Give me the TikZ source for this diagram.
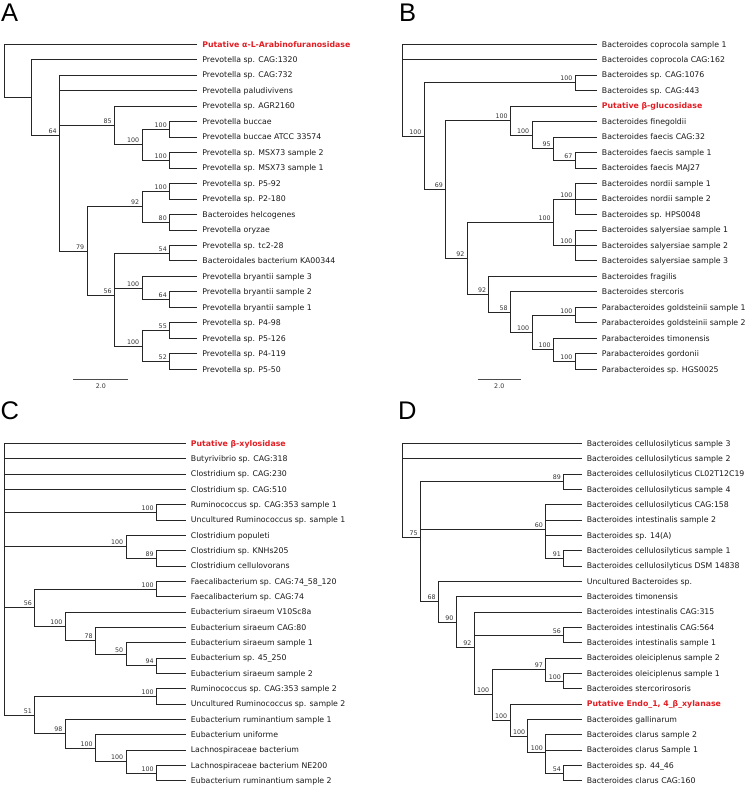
\documentclass[tikz,border=0pt]{standalone}
\usepackage{fontspec}
\setmainfont{DejaVu Sans}
\newfontfamily\panelfont{Liberation Sans}
\usetikzlibrary{calc}
\definecolor{putred}{RGB}{226,30,36}
\newcommand\putv[1]{\textcolor{putred}{\bfseries #1}}
\newcommand\inode[3]{\coordinate (tmpc) at ($#3$);\coordinate (#1) at (#2 |- tmpc);}
\newcommand\clade[3]{\draw[branch] (#2) -| (#1) |- (#3);}
\newcommand\midkid[2]{\draw[branch] (#1 |- #2) -- (#2);}
\newcommand\supp[2]{\node[supl] (#1s) at (#1) {#2};}
\newcommand\bin[5]{\inode{#1}{#2}{(#3)!.5!(#4)}\clade{#1}{#3}{#4}\supp{#1}{#5}}
\newcommand\tri[6]{\inode{#1}{#2}{0.33333*(#3)+0.33333*(#4)+0.33334*(#5)}\clade{#1}{#3}{#5}\midkid{#1}{#4}\supp{#1}{#6}}
\begin{document}
\begin{tikzpicture}[x=1pt,y=-1pt,
  branch/.style={draw=black!85, line width=0.9pt},
  leaf/.style={anchor=base west, inner sep=0pt, xshift=5pt, yshift=-2.8pt, font=\fontsize{7.8}{9}\selectfont, text=black!90},
  supl/.style={anchor=base east, inner sep=0pt, xshift=-2.7pt, yshift=2pt, font=\fontsize{6.3}{7}\selectfont, text=black!80},
  scl/.style={anchor=base, inner sep=0pt, yshift=-9.3pt, font=\fontsize{6.3}{7}\selectfont, text=black!80},
  panel/.style={anchor=base west, inner sep=0pt, font=\panelfont\fontsize{25.5}{28}\selectfont}
]
\useasboundingbox (0,0) rectangle (750,785);

% ---------------- panel letters
\node[panel] (pA) at (1,21.3) {A};
\node[panel] (pB) at (399,21.3) {B};
\node[panel] (pC) at (0.5,419.5) {C};
\node[panel] (pD) at (398,419.5) {D};

% ================= Panel A
\foreach \k in {0,...,6} {\coordinate (AX\k) at ({4.3+27.56*\k},0);}
\foreach \t [count=\i] in {
 {\putv{Putative α-L-Arabinofuranosidase}},
 Prevotella sp. CAG:1320, Prevotella sp. CAG:732, Prevotella paludivivens,
 Prevotella sp. AGR2160, Prevotella buccae, Prevotella buccae ATCC 33574,
 Prevotella sp. MSX73 sample 2, Prevotella sp. MSX73 sample 1,
 Prevotella sp. P5-92, Prevotella sp. P2-180, Bacteroides helcogenes,
 Prevotella oryzae, Prevotella sp. tc2-28, Bacteroidales bacterium KA00344,
 Prevotella bryantii sample 3, Prevotella bryantii sample 2,
 Prevotella bryantii sample 1, Prevotella sp. P4-98, Prevotella sp. P5-126,
 Prevotella sp. P4-119, Prevotella sp. P5-50}
 {\coordinate (a\i) at (197.2,{44.2+15.48*(\i-1)}); \node[leaf] (ta\i) at (a\i) {\t};}
\bin{aN1}{AX6}{a6}{a7}{100}
\bin{aN2}{AX6}{a8}{a9}{100}
\bin{aN3}{AX5}{aN1}{aN2}{100}
\bin{aN4}{AX4}{a5}{aN3}{85}
\bin{aN5}{AX6}{a10}{a11}{100}
\bin{aN6}{AX6}{a12}{a13}{80}
\bin{aN7}{AX5}{aN5}{aN6}{92}
\bin{aN8}{AX6}{a14}{a15}{54}
\bin{aN9}{AX6}{a17}{a18}{64}
\bin{aN10}{AX5}{a16}{aN9}{100}
\bin{aN11}{AX6}{a19}{a20}{55}
\bin{aN12}{AX6}{a21}{a22}{52}
\bin{aN13}{AX5}{aN11}{aN12}{100}
\tri{aN14}{AX4}{aN8}{aN10}{aN13}{56}
\bin{aN15}{AX3}{aN7}{aN14}{79}
\inode{aN16}{AX2}{0.25*(a3)+0.25*(a4)+0.25*(aN4)+0.25*(aN15)}
\clade{aN16}{a3}{aN15}\midkid{aN16}{a4}\midkid{aN16}{aN4}\supp{aN16}{64}
\inode{aN17}{AX1}{(a2)!.5!(aN16)}\clade{aN17}{a2}{aN16}
\inode{aR}{AX0}{(a1)!.5!(aN17)}\clade{aR}{a1}{aN17}
\coordinate (sA1) at (73.3,379); \coordinate (sA2) at (128.4,379);
\draw[draw=black!70, line width=0.7pt] (sA1) -- (sA2);
\node[scl] (sAt) at ($(sA1)!.5!(sA2)$) {2.0};

% ================= Panel B
\foreach \k in {0,...,8} {\coordinate (BX\k) at ({402.7+21.56*\k},0);}
\foreach \t [count=\i] in {
 Bacteroides coprocola sample 1, Bacteroides coprocola CAG:162,
 Bacteroides sp. CAG:1076, Bacteroides sp. CAG:443,
 {\putv{Putative β-glucosidase}},
 Bacteroides finegoldii, Bacteroides faecis CAG:32, Bacteroides faecis sample 1,
 Bacteroides faecis MAJ27, Bacteroides nordii sample 1, Bacteroides nordii sample 2,
 Bacteroides sp. HPS0048, Bacteroides salyersiae sample 1,
 Bacteroides salyersiae sample 2, Bacteroides salyersiae sample 3,
 Bacteroides fragilis, Bacteroides stercoris,
 Parabacteroides goldsteinii sample 1, Parabacteroides goldsteinii sample 2,
 Parabacteroides timonensis, Parabacteroides gordonii, Parabacteroides sp. HGS0025}
 {\coordinate (b\i) at (596.7,{44.2+15.48*(\i-1)}); \node[leaf] (tb\i) at (b\i) {\t};}
\bin{bN1}{BX8}{b3}{b4}{100}
\bin{bN2}{BX8}{b8}{b9}{67}
\bin{bN3}{BX7}{b7}{bN2}{95}
\bin{bN4}{BX6}{b6}{bN3}{100}
\bin{bN5}{BX5}{b5}{bN4}{100}
\tri{bN6}{BX8}{b10}{b11}{b12}{100}
\tri{bN7}{BX8}{b13}{b14}{b15}{100}
\bin{bN8}{BX7}{bN6}{bN7}{100}
\bin{bN9}{BX8}{b18}{b19}{100}
\bin{bN10}{BX8}{b21}{b22}{100}
\bin{bN11}{BX7}{b20}{bN10}{100}
\bin{bN12}{BX6}{bN9}{bN11}{100}
\bin{bN13}{BX5}{b17}{bN12}{58}
\bin{bN14}{BX4}{b16}{bN13}{92}
\bin{bN15}{BX3}{bN8}{bN14}{92}
\bin{bN16}{BX2}{bN5}{bN15}{69}
\bin{bN17}{BX1}{bN1}{bN16}{100}
\inode{bR}{BX0}{0.33333*(b1)+0.33333*(b2)+0.33334*(bN17)}
\clade{bR}{b1}{bN17}\midkid{bR}{b2}
\coordinate (sB1) at (477.7,379); \coordinate (sB2) at (520.8,379);
\draw[draw=black!70, line width=0.7pt] (sB1) -- (sB2);
\node[scl] (sBt) at ($(sB1)!.5!(sB2)$) {2.0};

% ================= Panel C
\foreach \k in {0,...,5} {\coordinate (CX\k) at ({4.3+30.45*\k},0);}
\foreach \t [count=\i] in {
 {\putv{Putative β-xylosidase}},
 Butyrivibrio sp. CAG:318, Clostridium sp. CAG:230, Clostridium sp. CAG:510,
 Ruminococcus sp. CAG:353 sample 1, Uncultured Ruminococcus sp. sample 1,
 Clostridium populeti, Clostridium sp. KNHs205, Clostridium cellulovorans,
 Faecalibacterium sp. CAG:74\_58\_120, Faecalibacterium sp. CAG:74,
 Eubacterium siraeum V10Sc8a, Eubacterium siraeum CAG:80,
 Eubacterium siraeum sample 1, Eubacterium sp. 45\_250,
 Eubacterium siraeum sample 2, Ruminococcus sp. CAG:353 sample 2,
 Uncultured Ruminococcus sp. sample 2, Eubacterium ruminantium sample 1,
 Eubacterium uniforme, Lachnospiraceae bacterium,
 Lachnospiraceae bacterium NE200, Eubacterium ruminantium sample 2}
 {\coordinate (c\i) at (185.7,{443.3+15.34*(\i-1)}); \node[leaf] (tc\i) at (c\i) {\t};}
\bin{cN1}{CX5}{c5}{c6}{100}
\bin{cN2}{CX5}{c8}{c9}{89}
\bin{cN3}{CX4}{c7}{cN2}{100}
\bin{cN4}{CX5}{c10}{c11}{100}
\bin{cN5}{CX5}{c15}{c16}{94}
\bin{cN6}{CX4}{c14}{cN5}{50}
\bin{cN7}{CX3}{c13}{cN6}{78}
\bin{cN8}{CX2}{c12}{cN7}{100}
\bin{cN9}{CX1}{cN4}{cN8}{56}
\bin{cN10}{CX5}{c17}{c18}{100}
\bin{cN11}{CX5}{c22}{c23}{100}
\bin{cN12}{CX4}{c21}{cN11}{100}
\bin{cN13}{CX3}{c20}{cN12}{100}
\bin{cN14}{CX2}{c19}{cN13}{98}
\bin{cN15}{CX1}{cN10}{cN14}{51}
\coordinate (cR) at (CX0 |- c1);
\clade{cR}{c1}{cN15}
\foreach \m in {c2,c3,c4,cN1,cN3,cN9} {\midkid{cR}{\m}}

% ================= Panel D
\foreach \k in {0,...,9} {\coordinate (DX\k) at ({402.7+17.89*\k},0);}
\foreach \t [count=\i] in {
 Bacteroides cellulosilyticus sample 3, Bacteroides cellulosilyticus sample 2,
 Bacteroides cellulosilyticus CL02T12C19, Bacteroides cellulosilyticus sample 4,
 Bacteroides cellulosilyticus CAG:158, Bacteroides intestinalis sample 2,
 Bacteroides sp. 14(A), Bacteroides cellulosilyticus sample 1,
 Bacteroides cellulosilyticus DSM 14838, Uncultured Bacteroides sp.,
 Bacteroides timonensis, Bacteroides intestinalis CAG:315,
 Bacteroides intestinalis CAG:564, Bacteroides intestinalis sample 1,
 Bacteroides oleiciplenus sample 2, Bacteroides oleiciplenus sample 1,
 Bacteroides stercorirosoris,
 {\putv{Putative Endo\_1, 4\_β\_xylanase}},
 Bacteroides gallinarum, Bacteroides clarus sample 2, Bacteroides clarus Sample 1,
 Bacteroides sp. 44\_46, Bacteroides clarus CAG:160}
 {\coordinate (d\i) at (581.6,{443.3+15.34*(\i-1)}); \node[leaf] (td\i) at (d\i) {\t};}
\bin{dN1}{DX9}{d3}{d4}{89}
\bin{dN2}{DX9}{d8}{d9}{91}
\inode{dN3}{DX8}{0.25*(d5)+0.25*(d6)+0.25*(d7)+0.25*(dN2)}
\clade{dN3}{d5}{dN2}\midkid{dN3}{d6}\midkid{dN3}{d7}\supp{dN3}{60}
\bin{dN4}{DX9}{d13}{d14}{56}
\bin{dN5}{DX9}{d16}{d17}{100}
\bin{dN6}{DX8}{d15}{dN5}{97}
\bin{dN7}{DX9}{d22}{d23}{54}
\tri{dN8}{DX8}{d20}{d21}{dN7}{100}
\bin{dN9}{DX7}{d19}{dN8}{100}
\bin{dN10}{DX6}{d18}{dN9}{100}
\bin{dN11}{DX5}{dN6}{dN10}{100}
\tri{dN12}{DX4}{d12}{dN4}{dN11}{92}
\bin{dN13}{DX3}{d11}{dN12}{90}
\bin{dN14}{DX2}{d10}{dN13}{68}
\tri{dN15}{DX1}{dN1}{dN3}{dN14}{75}
\inode{dR}{DX0}{0.33333*(d1)+0.33333*(d2)+0.33334*(dN15)}
\clade{dR}{d1}{dN15}\midkid{dR}{d2}
\end{tikzpicture}
\end{document}
